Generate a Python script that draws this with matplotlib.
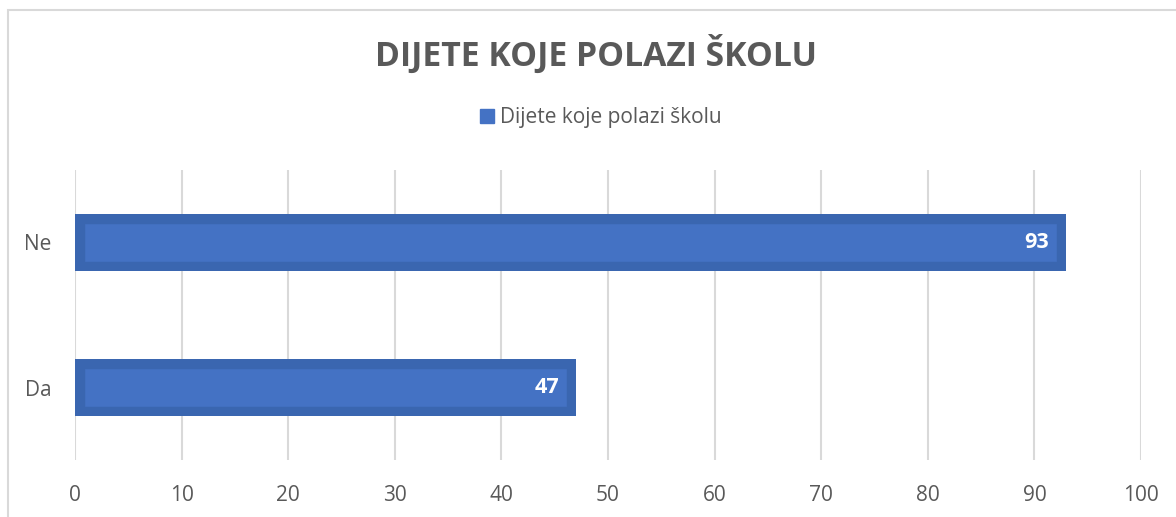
import matplotlib.pyplot as plt
from matplotlib.patches import Rectangle

categories = ["Da", "Ne"]
values = [47, 93]
series_name = "Dijete koje polazi školu"
title = "DIJETE KOJE POLAZI ŠKOLU"
xticks = list(range(0, 101, 10))

W, H = 1176, 517
fig = plt.figure(figsize=(W / 100, H / 100), dpi=100)
plt.rcParams['font.family'] = ['Open Sans', 'DejaVu Sans']

# light chart frame (only top/left visible in the crop)
fig.patches.append(Rectangle((8 / W, -0.1), 1.2, 1 - 10 / H + 0.1,
                             transform=fig.transFigure, fill=False,
                             edgecolor='#D9D9D9', linewidth=1.5))

ax = fig.add_axes([75 / W, 1 - 460 / H, (1141 - 75) / W, 290 / H])
bars = ax.barh(range(len(categories)), values, height=0.39,
               color='#4472C4', edgecolor='#3A66B0', linewidth=14, zorder=3)
for b in bars:
    b.set_clip_path(b)  # keep the stroke inside the bar

for i, v in enumerate(values):
    ax.text(v - 1.6, i, str(v), ha='right', va='center', color='white',
            fontsize=15.5, fontweight='bold', zorder=4)

ax.set_xlim(0, 100)
ax.set_ylim(-0.5, len(categories) - 0.5)
ax.set_xticks(xticks)
ax.set_yticks(range(len(categories)))
ax.set_yticklabels(categories)
ax.grid(axis='x', color='#D9D9D9', linewidth=1.5, zorder=0)
ax.tick_params(length=0, labelsize=15, colors='#595959')
ax.tick_params(axis='x', pad=18)
ax.tick_params(axis='y', pad=17)
for s in ax.spines.values():
    s.set_visible(False)

fig.text(596 / W, 1 - 54 / H, title, ha='center', va='center',
         fontsize=24.3, fontweight='bold', color='#595959')

legend_handle = Rectangle((0, 0), 1, 1, color='#4472C4')
fig.legend([legend_handle], [series_name], loc='center',
           bbox_to_anchor=(601 / W, 1 - 118 / H), frameon=False,
           fontsize=15, labelcolor='#595959', handlelength=0.65,
           handleheight=0.65, handletextpad=0.3)

fig.savefig('out.png', dpi=100)
